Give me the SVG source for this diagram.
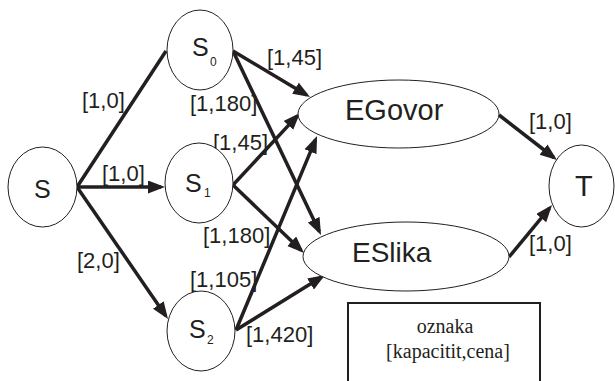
<svg xmlns="http://www.w3.org/2000/svg" width="615" height="381" viewBox="0 0 615 381">
<style>
.node{fill:#fff;stroke:#231f20;stroke-width:1}
.nt{font-family:"Liberation Sans",Arial,sans-serif;fill:#231f20}
.lbl{font-family:"Liberation Sans",Arial,sans-serif;font-size:22px;fill:#231f20}
.e{stroke:#231f20;stroke-width:3.5;fill:none}
.a{marker-end:url(#ah)}
.leg{font-family:"Liberation Serif","Times New Roman",serif;font-size:20px;fill:#231f20;text-anchor:middle}
</style>
<defs>
<marker id="ah" markerUnits="userSpaceOnUse" markerWidth="18" markerHeight="14" refX="13" refY="6.5" orient="auto">
<path d="M0,0 L17,6.5 L0,13 z" fill="#231f20"/>
</marker>
</defs>
<rect width="615" height="381" fill="#fff"/>
<g id="connectors">
<line class="e" x1="77" y1="187" x2="166" y2="51"/>
<line class="e a" x1="77" y1="187" x2="161" y2="187"/>
<line class="e a" x1="77" y1="187" x2="165.7" y2="315.7"/>
<line class="e a" x1="233" y1="51" x2="306.6" y2="94.9"/>
<line class="e a" x1="233" y1="51" x2="319.3" y2="231.4"/>
<line class="e a" x1="233" y1="185" x2="297.3" y2="115.9"/>
<line class="e a" x1="233" y1="185" x2="301.1" y2="250.2"/>
<line class="e a" x1="236" y1="330" x2="315.5" y2="139.7"/>
<line class="e a" x1="236" y1="330" x2="321.6" y2="277.1"/>
<line class="e a" x1="499" y1="115" x2="553.8" y2="157.5"/>
<line class="e a" x1="509" y1="257" x2="549.5" y2="208.1"/>
<text class="lbl" x="82" y="108">[1,0]</text>
<text class="lbl" x="102" y="181">[1,0]</text>
<text class="lbl" x="77" y="268">[2,0]</text>
<text class="lbl" x="267" y="65">[1,45]</text>
<text class="lbl" x="190" y="111">[1,180]</text>
<text class="lbl" x="213" y="150">[1,45]</text>
<text class="lbl" x="203" y="243">[1,180]</text>
<text class="lbl" x="190" y="287">[1,105]</text>
<text class="lbl" x="246" y="342">[1,420]</text>
<text class="lbl" x="529" y="129">[1,0]</text>
<text class="lbl" x="529" y="251">[1,0]</text>
</g>
<g id="S">
<ellipse class="node" cx="42.5" cy="187" rx="34.5" ry="40"/>
<text class="nt" x="34" y="198" font-size="25">S</text>
</g>
<g id="S0">
<ellipse class="node" cx="200" cy="50" rx="33" ry="40"/>
<text class="nt" x="192" y="56" font-size="25">S</text>
<text class="nt" x="210" y="66" font-size="12">0</text>
</g>
<g id="S1">
<ellipse class="node" cx="199" cy="183" rx="34" ry="40"/>
<text class="nt" x="185" y="192" font-size="25">S</text>
<text class="nt" x="204" y="197" font-size="12">1</text>
</g>
<g id="S2">
<ellipse class="node" cx="201" cy="331" rx="34" ry="40"/>
<text class="nt" x="189" y="338" font-size="25">S</text>
<text class="nt" x="207" y="344" font-size="12">2</text>
</g>
<g id="EGovor">
<ellipse class="node" cx="398.5" cy="114" rx="100.5" ry="34"/>
<text class="nt" x="345" y="120" font-size="29">EGovor</text>
</g>
<g id="ESlika">
<ellipse class="node" cx="406" cy="256.5" rx="103" ry="34.5"/>
<text class="nt" x="352" y="262" font-size="28">ESlika</text>
</g>
<g id="T">
<ellipse class="node" cx="581.5" cy="186" rx="32.5" ry="41"/>
<text class="nt" x="575" y="196" font-size="29">T</text>
</g>
<g id="legend">
<rect x="348" y="303" width="192" height="100" fill="#fff" stroke="#231f20" stroke-width="2"/>
<text class="leg" x="445" y="333">oznaka</text>
<text class="leg" x="448" y="358">[kapacitit,cena]</text>
</g>
</svg>
